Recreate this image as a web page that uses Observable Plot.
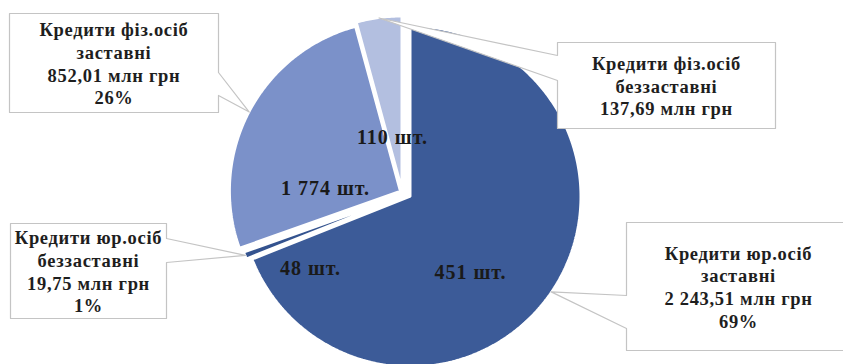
<!DOCTYPE html>
<html><head><meta charset="utf-8">
<script src="https://cdn.jsdelivr.net/npm/d3@7"></script>
<script src="https://cdn.jsdelivr.net/npm/@observablehq/plot@0.6"></script>
<style>html,body{margin:0;padding:0;background:#fff;overflow:hidden}</style>
</head><body><div id="chart"></div>
<script>
// ---- data ----
const categories = ["Кредити юр.осіб заставні", "Кредити юр.осіб беззаставні", "Кредити фіз.осіб заставні", "Кредити фіз.осіб беззаставні"];
const amounts = [2243.51, 19.75, 852.01, 137.69];   // млн грн
const counts = [451, 48, 1774, 110];                // шт.
const showPercent = [true, true, true, false];

// ---- layout / style ----
const W = 843, H = 364;
const pieGeom = {cx: 410, cy: 196, r: 170};
const explode = [[0, 0], [-6, -1], [-10.6, -5.6], [-9, -10]];
const colors = ["#3c5b98", "#34538f", "#7b91c9", "#b3bfe0"];
const countLabelPos = [[470, 272], [310, 268], [325, 188], [392, 137]];
const callouts = [
  {box: [626, 222, 850, 350], side: "left", base: [295, 328]},
  {box: [10, 223, 166, 318], side: "right", base: [238, 262]},
  {box: [9, 13, 218, 112], side: "right", base: [72, 95]},
  {box: [557, 42, 775, 128], side: "left", base: [55, 80]}
];

const loc = d3.formatLocale({decimal: ",", thousands: "\u00a0", grouping: [3], currency: ["", ""]});
const fmtAmt = loc.format(",.2f");
const fmtCnt = loc.format(",d");
const total = d3.sum(amounts);

const arcs = d3.pie().sort(null).value(d => d)(amounts);

// slice polygons from pie angles
const slicePts = [];
const tips = [];
arcs.forEach((a, i) => {
  const cx = pieGeom.cx + explode[i][0], cy = pieGeom.cy + explode[i][1], r = pieGeom.r;
  slicePts.push({k: i, x: cx, y: cy, fill: colors[i]});
  const n = Math.max(2, Math.ceil((a.endAngle - a.startAngle) / (Math.PI / 360)));
  for (let j = 0; j <= n; j++) {
    const t = a.startAngle + (a.endAngle - a.startAngle) * j / n;
    slicePts.push({k: i, x: cx + r * Math.sin(t), y: cy - r * Math.cos(t), fill: colors[i]});
  }
  const m = (a.startAngle + a.endAngle) / 2;
  tips.push([cx + r * Math.sin(m), cy - r * Math.cos(m)]);
});

// callout polygons (box + pointer to the slice's mid arc)
const calloutPts = [];
callouts.forEach((c, i) => {
  const [x1, y1, x2, y2] = c.box;
  const [b1, b2] = c.base;
  const [tx, ty] = tips[i];
  let pts;
  if (c.side === "right") {
    pts = [[x1, y1], [x2, y1], [x2, b1], [tx, ty], [x2, b2], [x2, y2], [x1, y2]];
  } else {
    pts = [[x1, y1], [x2, y1], [x2, y2], [x1, y2], [x1, b2], [tx, ty], [x1, b1]];
  }
  pts.forEach(p => calloutPts.push({k: i, x: p[0], y: p[1]}));
});

const calloutText = categories.map((name, i) => {
  const lines = [name.replace(/ (\S+)$/, "\n$1"), fmtAmt(amounts[i]) + " млн грн"];
  if (showPercent[i]) lines.push(Math.round(amounts[i] / total * 100) + "%");
  const [x1, y1, x2, y2] = callouts[i].box;
  return {x: (x1 + x2) / 2, y: (y1 + y2) / 2, text: lines.join("\n")};
});

const countText = counts.map((c, i) => ({x: countLabelPos[i][0], y: countLabelPos[i][1], text: fmtCnt(c) + " шт."}));

const chart = Plot.plot({
  width: W, height: H, margin: 0,
  style: {background: "#fff"},
  x: {domain: [0, W], range: [0, W], axis: null},
  y: {domain: [0, H], range: [0, H], axis: null},
  color: {type: "identity"},
  marks: [
    Plot.line(slicePts, {x: "x", y: "y", z: "k", fill: "fill", stroke: "#fff", strokeWidth: 2, curve: "linear-closed", strokeLinejoin: "miter"}),
    Plot.line(calloutPts, {x: "x", y: "y", z: "k", fill: "#fff", stroke: "#c4c4c4", strokeWidth: 1.2, curve: "linear-closed"}),
    Plot.text(calloutText, {x: "x", y: "y", text: "text", fontFamily: "Liberation Serif", fontWeight: "bold", fontSize: 18.5, lineHeight: 1.22, fill: "#1e1e1e", textAnchor: "middle"}),
    Plot.text(countText, {x: "x", y: "y", text: "text", fontFamily: "Liberation Serif", fontWeight: "bold", fontSize: 20, fill: "#1a1a1a", textAnchor: "middle"})
  ]
});
const textGroups = d3.select(chart).selectAll('g[aria-label="text"]').nodes();
if (textGroups[0]) textGroups[0].setAttribute("letter-spacing", "0.7");
if (textGroups[1]) textGroups[1].setAttribute("letter-spacing", "1");
document.getElementById("chart").appendChild(chart);
</script>
</body></html>
